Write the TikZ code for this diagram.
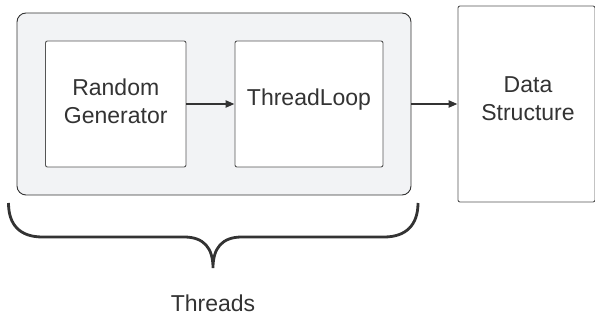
\documentclass[tikz,border=0pt]{standalone}
\usepackage{fontspec}
\setmainfont{Liberation Sans}
\usetikzlibrary{arrows.meta}
\definecolor{lineC}{HTML}{333333}
\definecolor{boxC}{HTML}{555555}
\definecolor{groupfill}{HTML}{F2F3F5}
\begin{document}
\begin{tikzpicture}[x=1pt,y=-1pt,
  stepbox/.style={draw=boxC,line width=0.9pt,fill=white,rounded corners=2pt,
    minimum width=#1,inner sep=0pt},
  lbl/.style={text=black!80,align=center,font=\fontsize{23}{28}\selectfont},
  conn/.style={draw=lineC,line width=2.2pt,-{Triangle[length=9pt,width=7pt]}},
  brace/.style={draw=lineC,line width=2.8pt}]
\useasboundingbox (0,0) rectangle (595,320);
\node[draw=lineC,line width=0.9pt,fill=groupfill,rounded corners=9pt,minimum width=394pt,minimum height=182pt,inner sep=0pt] (grp) at (214,104) {};
\node[stepbox=140.5pt,minimum height=126pt] (rg) at (115.75,104) {};
\node[stepbox=148pt,minimum height=126pt] (tl) at (309,104) {};
\node[stepbox=137pt,minimum height=196pt] (ds) at (526.5,104) {};
\node[lbl] (rgt) at (115.75,101) {Random\\Generator};
\node[lbl] (tlt) at (309,100) {ThreadLoop};
\node[lbl] (dst) at (528,99) {Data\\Structure};
\draw[conn] (rg.east) -- (tl.west);
\draw[conn] (grp.east) -- (ds.west);
\coordinate (bl) at (8.5,203);
\coordinate (br) at (418,203);
\coordinate (tip) at (213,268);
\draw[brace] (bl) .. controls (8.5,225) and (20,237) .. (42.5,237) -- (184,237)
  .. controls (204,237) and (213,248) .. (tip)
  .. controls (213,248) and (222,237) .. (242,237) -- (384,237)
  .. controls (406,237) and (418,225) .. (br);
\node[lbl] (thr) at (213,303) {Threads};
\end{tikzpicture}
\end{document}
